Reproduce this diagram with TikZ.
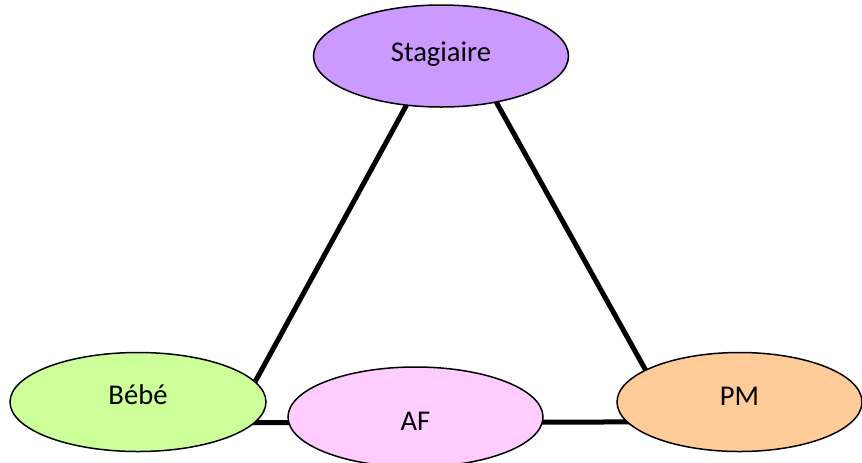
\documentclass[tikz,border=0pt]{standalone}
\usepackage{fontspec}
\setmainfont{Carlito}
\usetikzlibrary{shapes.geometric,backgrounds}
\usetikzlibrary{positioning}
\definecolor{fondstag}{HTML}{CC99FF}
\definecolor{fondbebe}{HTML}{CCFF99}
\definecolor{fondaf}{HTML}{FFCCFF}
\definecolor{fondpm}{HTML}{FFCC99}
\tikzstyle{bulle} = [ellipse, minimum width=127.5pt, minimum height=50pt, inner sep=0pt, draw=black, line width=0.75pt, text centered, text height=10pt, text depth=3pt, font=\fontsize{14.3}{16}\selectfont]
\tikzstyle{lien} = [line width=2.5pt, shorten <=-4pt, shorten >=-4pt]

\begin{document}
\begin{tikzpicture}[x=0.5pt, y=-0.5pt]
\useasboundingbox (0,0) rectangle (862,462);

\node (stag) [bulle, fill=fondstag, minimum height=51pt, text depth=5pt] at (441,56) {Stagiaire};
\node (bebe) [bulle, fill=fondbebe, minimum width=128pt, minimum height=49.5pt, text depth=8pt] at (138,402) {Bébé};
\node (af) [bulle, fill=fondaf, text height=16pt] at (415.5,417) {AF};
\node (pm) [bulle, fill=fondpm, minimum width=122.5pt, minimum height=49.5pt, text depth=7pt] at (739.5,402) {PM};

\begin{pgfonlayer}{background}
\draw[lien] (stag.235) -- (bebe.10);
\draw[lien] (stag.-40) -- (pm.161);
\draw[lien] (bebe.-10) -- (pm.190);
\end{pgfonlayer}
\end{tikzpicture}
\end{document}
